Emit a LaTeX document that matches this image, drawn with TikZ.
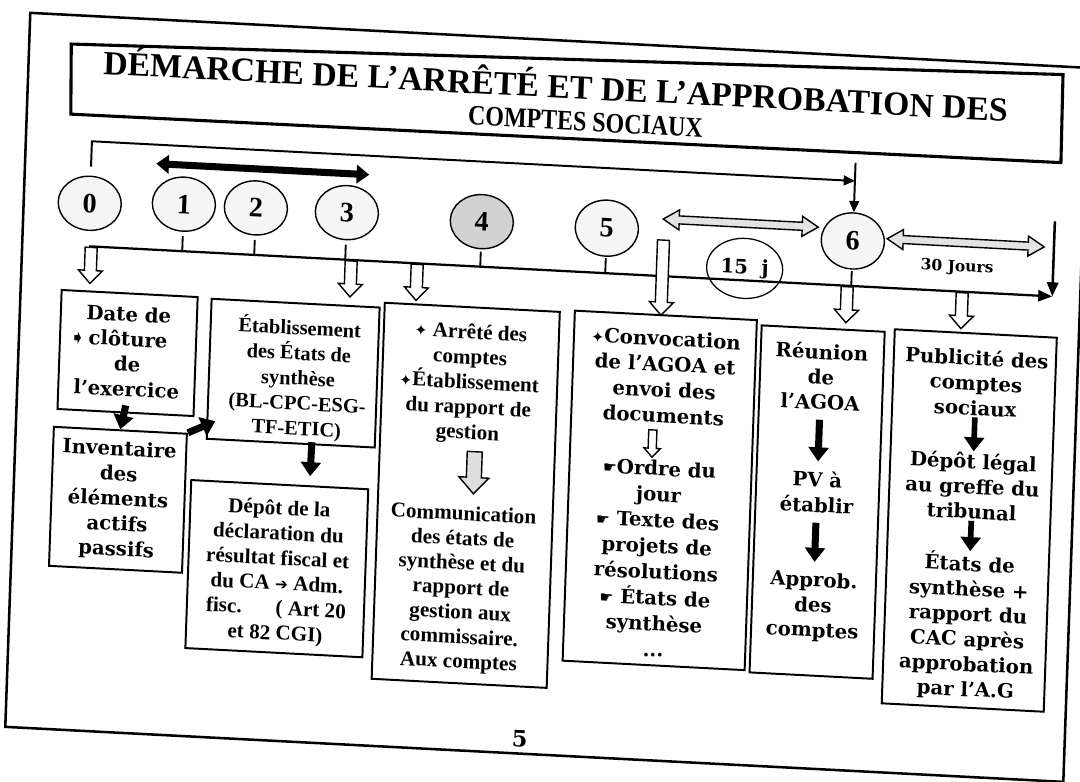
\documentclass[tikz,border=0pt]{standalone}
\usepackage{fontspec}
\setmainfont{DejaVu Serif}
\newfontfamily\timesfont{Liberation Serif}
\newfontfamily\titlecond{Liberation Serif}[FakeStretch=0.85]
\newfontfamily\symfont{DejaVu Sans}
\usetikzlibrary{arrows.meta,shapes.geometric,calc}

\newdimen\pxu \pxu=0.025cm

\begin{document}
\begin{tikzpicture}[x=0.025cm,y=-0.025cm]
  \tikzset{
    box/.style={draw,line width=1.4pt,inner sep=0pt},
    stage/.style={ellipse,draw,line width=1pt,fill=gray!8,minimum width=63\pxu,minimum height=54\pxu,inner sep=0pt,font=\timesfont\bfseries\fontsize{20}{20}\selectfont},
    bk/.style={font=\bfseries\fontsize{14}{17.8}\selectfont,align=center,inner sep=1pt},
    tm/.style={font=\timesfont\bfseries\fontsize{15}{17.8}\selectfont,align=center,inner sep=1pt},
    blk/.style={line width=5pt,-{Triangle[length=10pt,width=14pt]}},
    leader/.style={line width=1.4pt,-{Triangle[length=8pt,width=7pt]}},
    pics/hollow/.style 2 args={code={
      \draw[line width=1pt,fill=#2] (-6,0) -- (-6,#1-13) -- (-12,#1-13) -- (0,#1) -- (12,#1-13) -- (6,#1-13) -- (6,0) -- cycle;}},
    pics/duree/.style={code={
      \draw[line width=1pt,fill=gray!22] (0,0) -- (16,-10) -- (16,-4) -- (#1-16,-4) -- (#1-16,-10) -- (#1,0) -- (#1-16,10) -- (#1-16,4) -- (16,4) -- (16,10) -- cycle;}}
  }
  \def\sym#1{{\symfont\fontsize{11}{11}\selectfont #1}}
  \useasboundingbox (0,0) rectangle (1080,782);

  \begin{scope}[transform canvas={shift={(540,391)},cm={1,-0.052,0.035,1,(0,0)},shift={(-540,-391)}}]
  \node[box,line width=1.8pt,minimum width=1058\pxu,minimum height=714\pxu] (page) at (547,397) {};
  % cadre du titre
  \draw[line width=2.2pt] (60,69) -- (1051,48) -- (1052,136) -- (62,139) -- cycle;
  \node[font=\timesfont\bfseries\fontsize{24}{24}\selectfont] (t1) at (545,83) {DÉMARCHE DE L’ARRÊTÉ ET DE L’APPROBATION DES};
  \node[font=\titlecond\bfseries\fontsize{20}{20}\selectfont] (t2) at (576,120) {COMPTES SOCIAUX};

  % les etapes
  \node[stage] (c0) at (84,227) {0};
  \node[stage] (c1) at (178,223) {1};
  \node[stage] (c2) at (250,223) {2};
  \node[stage] (c3) at (341,223) {3};
  \node[stage,fill=gray!35] (c4) at (476,225) {4};
  \node[stage,minimum height=56\pxu] (c5) at (601,225) {5};
  \node[stage,minimum height=56\pxu] (c6) at (847,225) {6};

  \coordinate (tlA) at (85,270);
  \coordinate (tlB) at (1048,270);
  \draw[line width=1.6pt,-{Triangle[length=10pt,width=8pt]}] (tlA) -- (tlB);
  \foreach \n in {1,...,6}
    \draw[line width=1.3pt] (c\n |- tlA) -- ++(0,-15);

  \draw[leader] ($(c0.north)+(0,-9)$) |- (c6.north |- 0,165);
  \coordinate (topR) at (847,147);
  \draw[leader] (c6.north |- topR) -- (c6.north);

  \coordinate (g1) at (149,184);
  \coordinate (g2) at (362,184);
  \draw[line width=5pt,{Triangle[length=9pt,width=13pt]}-{Triangle[length=9pt,width=13pt]}] (g1) -- (g2);

  \pic at (657,213) {duree=155};
  \node[ellipse,draw,line width=0.9pt,minimum width=76\pxu,minimum height=60\pxu,inner sep=0pt,font=\bfseries\fontsize{14}{14}\selectfont] (c15) at (740,258) {15\ \ j};
  \pic at ($(c6.east)+(2,-4)$) {duree=157};
  \node[font=\bfseries\fontsize{11}{11}\selectfont] (j30) at (952,246) {30 Jours};
  \coordinate (r30) at (1048,195);
  \draw[line width=1.8pt,-{Triangle[length=10pt,width=8pt]}] (r30) -- (tlB);

  \foreach \x in {87,347,413,843,958}
    \pic at (\x,271) {hollow={36}{white}};
  \pic at (658,234) {hollow={75}{white}};

  % les cadres
  \node[box,minimum width=136\pxu,minimum height=119\pxu] (boxA) at (127,374.5) {};
  \node[box,minimum width=133\pxu,minimum height=139\pxu] (boxB) at (122.5,521.5) {};
  \node[box,minimum width=168\pxu,minimum height=140\pxu] (boxC) at (293,386) {};
  \node[box,minimum width=177\pxu,minimum height=168\pxu] (boxD) at (283.5,582) {};
  \node[box,minimum width=175\pxu,minimum height=376\pxu] (boxE) at (469.5,499) {};
  \node[box,minimum width=182\pxu,minimum height=350\pxu] (boxF) at (663,484) {};
  \node[box,minimum width=123\pxu,minimum height=347\pxu] (boxG) at (820.5,487.5) {};
  \node[box,minimum width=162\pxu,minimum height=374\pxu] (boxH) at (973,498) {};

  \node[bk] (tA) at (127,373) {Date de\\\llap{{\symfont\fontsize{13}{13}\selectfont ➧}\,}clôture\\de\\l’exercice};
  \node[bk] (tB) at (122.5,522) {Inventaire\\des\\éléments\\actifs\\passifs};
  \node[tm,font=\timesfont\bfseries\fontsize{14.5}{17.8}\selectfont] (tC) at (298,391) {Établissement\\des États de\\synthèse\\(BL-CPC-ESG-\\TF-ETIC)};
  \node[tm] (tD) at (284,585.5) {Dépôt de la\\déclaration du\\résultat fiscal et\\du CA \sym{➔} Adm.\\fisc.\hspace{1.6em}( Art 20\\et 82 CGI)};

  \draw[blk] ($(boxA.south)+(0,-8)$) -- (boxB.north);
  \draw[blk] (boxB.north east) -- ($(boxC.south west)+(9,-19)$);
  \draw[blk] ($(boxC.south)+(21,-3)$) -- ($(boxD.north)+(30,-9)$);

  \node[tm] (tE1) at (469,387.5) {\sym{✦} Arrêté des\\comptes\\\sym{✦}Établissement\\du rapport de\\gestion};
  \pic[scale=1.25] at (477,455) {hollow={33.6}{gray!25}};
  \node[tm,font=\timesfont\bfseries\fontsize{15}{17.5}\selectfont] (tE2) at (468,593) {Communication\\des états de\\synthèse et du\\rapport de\\gestion aux\\commissaire.\\Aux comptes};

  \node[bk,font=\bfseries\fontsize{14}{18.2}\selectfont] (tF1) at (664,370.5) {\sym{✦}Convocation\\de l’AGOA et\\envoi des\\documents};
  \pic[scale=0.68] at (654,424) {hollow={40}{white}};
  \node[bk,font=\bfseries\fontsize{14}{18.4}\selectfont] (tF2) at (662,552.5) {\sym{☛}Ordre du\\jour\\\sym{☛} Texte des\\projets de\\résolutions\\\sym{☛} États de\\synthèse\\...};

  \node[bk] (tG1) at (820,362) {Réunion\\de\\l’AGOA};
  \node[bk] (tG2) at (820,477.5) {PV à\\établir};
  \node[bk] (tG3) at (820,592) {Approb.\\des\\comptes};
  \draw[blk,shorten <=6pt,shorten >=6pt] (tG1) -- (tG2);
  \draw[blk,shorten <=6pt,shorten >=6pt] (tG2) -- (tG3);

  \node[bk] (tH1) at (975,360) {Publicité des\\comptes\\sociaux};
  \node[bk] (tH2) at (975,463.5) {Dépôt légal\\au greffe du\\tribunal};
  \node[bk] (tH3) at (975,604) {États de\\synthèse +\\rapport du\\CAC après\\approbation\\par l’A.G};
  \draw[blk,line width=4pt] (tH1) -- (tH2);
  \draw[blk,line width=4pt] (tH2) -- (tH3);

  \node[font=\bfseries\fontsize{16}{16}\selectfont] (pg) at (532,739) {5};
  \end{scope}
\end{tikzpicture}
\end{document}
